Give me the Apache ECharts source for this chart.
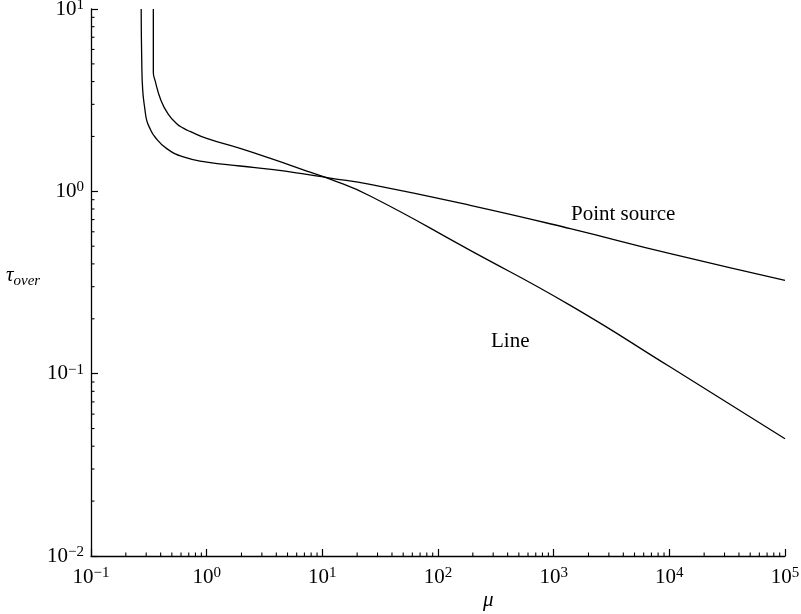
<!DOCTYPE html>
<html>
<head>
<meta charset="utf-8">
<script src="https://cdn.jsdelivr.net/npm/echarts@6/dist/echarts.min.js"></script>
<style>
  html, body { margin: 0; padding: 0; background: #fff; }
  #main { width: 801px; height: 614px; }
</style>
</head>
<body>
<div id="main"></div>
<script>
// values (mu, tau_over)
const lineMu  = [0.3458, 0.3458, 0.3577, 0.402, 0.465, 0.551, 0.629, 0.718, 1.0, 1.945, 3.776, 7.34, 11.68, 25.9, 190, 1392, 10200, 100000];
const lineTau = [10, 4.5, 4.06, 3.16, 2.65, 2.35, 2.22, 2.13, 1.95, 1.718, 1.495, 1.291, 1.167, 0.943, 0.4746, 0.2369, 0.1087, 0.044];

const pointMu  = [0.2715, 0.2746, 0.280, 0.2932, 0.3032, 0.3193, 0.3577, 0.4518, 0.6287, 1.002, 1.945, 3.776, 7.34, 11.68, 25.9, 190, 1392, 10200, 100000];
const pointTau = [10, 5.23, 3.58, 2.78, 2.45, 2.25, 1.986, 1.715, 1.543, 1.448, 1.377, 1.315, 1.239, 1.183, 1.091, 0.838, 0.6242, 0.455, 0.325];

const xDecades = [-1, 0, 1, 2, 3, 4];   // minor ticks 2..9 in each
const yDecades = [-2, -1, 0];

const serif = '"Liberation Serif", "DejaVu Serif", serif';

function zip(a, b) {
  let out = [];
  for (let i = 0; i < a.length; i++) out.push([a[i], b[i]]);
  return out;
}

function minorValues(decades) {
  let out = [];
  decades.forEach(function (k) {
    for (let m = 2; m <= 9; m++) out.push(m * Math.pow(10, k));
  });
  return out;
}

function powLabel(v) {
  let e = Math.round(Math.log10(v));
  return '{b|10}{s|' + (e < 0 ? '\u2212' + (-e) : e) + '}';
}

const labelRich = {
  b: { fontFamily: serif, fontSize: 21, color: '#000', lineHeight: 23 },
  s: { fontFamily: serif, fontSize: 15, color: '#000', lineHeight: 15, verticalAlign: 'top' }
};

const chart = echarts.init(document.getElementById('main'));

const option = {
  animation: false,
  grid: { left: 91, right: 16, top: 9, bottom: 58, containLabel: false, outerBoundsMode: 'none' },
  xAxis: {
    type: 'log',
    logBase: 10,
    min: 0.1,
    max: 100000,
    interval: 1,
    axisLine: { show: true, onZero: false, lineStyle: { color: '#000', width: 1.3 } },
    axisTick: { show: true, inside: true, length: 7, lineStyle: { color: '#000', width: 1.2 } },
    splitLine: { show: false },
    axisLabel: { margin: 10, formatter: powLabel, rich: labelRich }
  },
  yAxis: {
    type: 'log',
    logBase: 10,
    min: 0.01,
    max: 10,
    interval: 1,
    axisLine: { show: true, onZero: false, lineStyle: { color: '#000', width: 1.3 } },
    axisTick: { show: true, inside: true, length: 7, lineStyle: { color: '#000', width: 1.2 } },
    splitLine: { show: false },
    axisLabel: { margin: 7, formatter: powLabel, rich: labelRich }
  },
  series: [
    {
      name: 'Line',
      type: 'line',
      data: zip(lineMu, lineTau),
      showSymbol: false,
      smooth: 0.5,
      lineStyle: { color: '#000', width: 1.3 }
    },
    {
      name: 'Point source',
      type: 'line',
      data: zip(pointMu, pointTau),
      showSymbol: false,
      smooth: 0.5,
      lineStyle: { color: '#000', width: 1.3 }
    },
    {
      // minor ticks on the mu axis
      type: 'custom',
      data: minorValues(xDecades).map(function (v) { return [v, 0.01]; }),
      encode: { x: 0, y: 1 },
      silent: true,
      clip: false,
      renderItem: function (params, api) {
        let p = api.coord([api.value(0), api.value(1)]);
        return {
          type: 'line',
          shape: { x1: p[0], y1: p[1], x2: p[0], y2: p[1] - 3.5 },
          style: { stroke: '#000', lineWidth: 1.1 }
        };
      }
    },
    {
      // minor ticks on the tau axis
      type: 'custom',
      data: minorValues(yDecades).map(function (v) { return [0.1, v]; }),
      encode: { x: 0, y: 1 },
      silent: true,
      clip: false,
      renderItem: function (params, api) {
        let p = api.coord([api.value(0), api.value(1)]);
        return {
          type: 'line',
          shape: { x1: p[0], y1: p[1], x2: p[0] + 3.5, y2: p[1] },
          style: { stroke: '#000', lineWidth: 1.1 }
        };
      }
    }
  ],
  graphic: [
    {
      type: 'text', x: 571, y: 214,
      style: { text: 'Point source', fontFamily: serif, fontSize: 21, fill: '#000', textVerticalAlign: 'middle' }
    },
    {
      type: 'text', x: 491, y: 341,
      style: { text: 'Line', fontFamily: serif, fontSize: 21, fill: '#000', textVerticalAlign: 'middle' }
    },
    {
      type: 'text', x: 483, y: 600,
      style: { text: '\u03bc', fontFamily: serif, fontSize: 21, fontStyle: 'italic', fill: '#000', textVerticalAlign: 'middle' }
    },
    {
      type: 'text', x: 6, y: 277,
      style: {
        text: '{t|\u03c4}{o|over}',
        textVerticalAlign: 'middle',
        rich: {
          t: { fontFamily: serif, fontSize: 21, fontStyle: 'italic', fill: '#000', lineHeight: 24, verticalAlign: 'top' },
          o: { fontFamily: serif, fontSize: 15, fontStyle: 'italic', fill: '#000', lineHeight: 15, verticalAlign: 'bottom' }
        }
      }
    }
  ]
};

chart.setOption(option);
</script>
</body>
</html>
